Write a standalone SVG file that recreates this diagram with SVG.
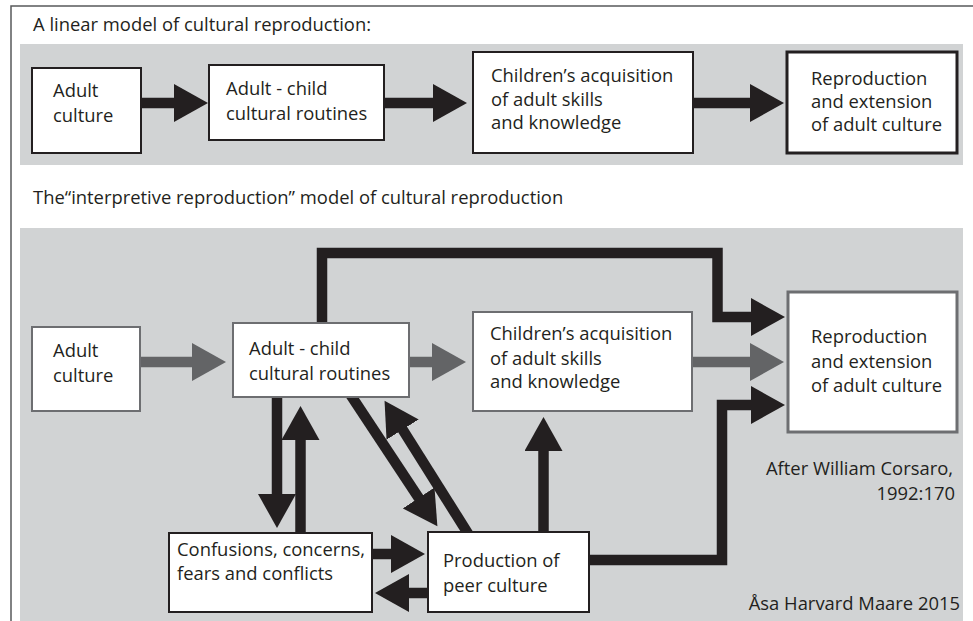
<svg xmlns="http://www.w3.org/2000/svg" width="973" height="621" viewBox="0 0 973 621">
  <style>
    text { font-family: "Open Sans", "Liberation Sans", sans-serif; font-size: 18.4px; fill: #231f20; }
    .panel { fill: #d1d3d4; }
    .bk { fill: #ffffff; stroke: #231f20; stroke-width: 2; }
    .gy { fill: #ffffff; stroke: #6d6e71; stroke-width: 2; }
    .shaft { fill: none; stroke: #231f20; stroke-width: 10.5; stroke-linejoin: miter; }
    .gshaft { fill: none; stroke: #636466; stroke-width: 10.5; }
    .end { text-anchor: end; }
  </style>
  <defs>
    <marker id="ah" markerUnits="userSpaceOnUse" viewBox="0 0 35 38" markerWidth="35" markerHeight="38" refX="1" refY="19" orient="auto">
      <path d="M0,0 L34,19 L0,38 Z" fill="#231f20"/>
    </marker>
    <marker id="gah" markerUnits="userSpaceOnUse" viewBox="0 0 35 38" markerWidth="35" markerHeight="38" refX="1" refY="19" orient="auto">
      <path d="M0,0 L34,19 L0,38 Z" fill="#636466"/>
    </marker>
  </defs>

  <rect width="973" height="621" fill="#ffffff"/>
  <path d="M11,621 V6 H973" fill="none" stroke="#58595b" stroke-width="1.5"/>

  <g id="title-linear"><text x="33" y="31">A linear model of cultural reproduction:</text></g>
  <rect class="panel" x="20" y="44" width="943" height="121"/>

  <g id="title-interpretive"><text x="33" y="204">The“interpretive reproduction” model of cultural reproduction</text></g>
  <rect class="panel" x="20" y="228" width="943" height="393"/>

  <g id="connectors">
    <!-- top linear model -->
    <path class="shaft" d="M140,103 H175" marker-end="url(#ah)"/>
    <path class="shaft" d="M383,103 H434" marker-end="url(#ah)"/>
    <path class="shaft" d="M692,103 H751" marker-end="url(#ah)"/>

    <!-- interpretive model: gray main chain -->
    <path class="gshaft" d="M139,362 H193" marker-end="url(#gah)"/>
    <path class="gshaft" d="M408,362 H433" marker-end="url(#gah)"/>
    <path class="gshaft" d="M691,362 H751" marker-end="url(#gah)"/>

    <!-- black routes -->
    <path class="shaft" d="M322,330 V253 H717.5 V317 H752" marker-end="url(#ah)"/>
    <path class="shaft" d="M580,560 H722 V405 H752" marker-end="url(#ah)"/>
    <path class="shaft" d="M277,390 V495" marker-end="url(#ah)"/>
    <path class="shaft" d="M300.5,540 V439" marker-end="url(#ah)"/>
    <path class="shaft" d="M543.5,540 V450" marker-end="url(#ah)"/>
    <path class="shaft" d="M365,554 H392" marker-end="url(#ah)"/>
    <path class="shaft" d="M435,593 H408" marker-end="url(#ah)"/>
    <path class="shaft" d="M347.6,390.3 L419.2,498.7" marker-end="url(#ah)"/>
    <path class="shaft" d="M471.3,538.8 L402.1,428.7" marker-end="url(#ah)"/>
  </g>

  <!-- linear model nodes -->
  <g id="lin-adult-culture">
    <rect class="bk" x="32" y="68" width="109" height="85"/>
    <text x="53" y="97">Adult</text>
    <text x="53" y="122">culture</text>
  </g>
  <g id="lin-routines">
    <rect class="bk" x="209" y="65" width="175" height="75"/>
    <text x="226" y="95">Adult - child</text>
    <text x="226" y="120">cultural routines</text>
  </g>
  <g id="lin-acquisition">
    <rect class="bk" x="473" y="52" width="220" height="101"/>
    <text x="491" y="82">Children’s acquisition</text>
    <text x="491" y="106">of adult skills</text>
    <text x="491" y="129">and knowledge</text>
  </g>
  <g id="lin-reproduction">
    <rect class="bk" x="787" y="52" width="170" height="101" style="stroke-width:3"/>
    <text x="811" y="85">Reproduction</text>
    <text x="811" y="108">and extension</text>
    <text x="811" y="131">of adult culture</text>
  </g>

  <!-- interpretive model nodes -->
  <g id="int-adult-culture">
    <rect class="gy" x="32" y="327" width="108" height="84"/>
    <text x="53" y="357">Adult</text>
    <text x="53" y="382">culture</text>
  </g>
  <g id="int-routines">
    <rect class="gy" x="233" y="323" width="176" height="74"/>
    <text x="249" y="355">Adult - child</text>
    <text x="249" y="380">cultural routines</text>
  </g>
  <g id="int-acquisition">
    <rect class="gy" x="473" y="312" width="219" height="99"/>
    <text x="490" y="340">Children’s acquisition</text>
    <text x="490" y="365">of adult skills</text>
    <text x="490" y="388">and knowledge</text>
  </g>
  <g id="int-reproduction">
    <rect class="gy" x="788" y="292" width="169" height="140" style="stroke-width:3"/>
    <text x="811" y="343">Reproduction</text>
    <text x="811" y="368">and extension</text>
    <text x="811" y="392">of adult culture</text>
  </g>
  <g id="int-confusions">
    <rect class="bk" x="169" y="533" width="203" height="79"/>
    <text x="177" y="556">Confusions, concerns,</text>
    <text x="177" y="580">fears and conflicts</text>
  </g>
  <g id="int-peer-culture">
    <rect class="bk" x="428" y="532" width="161" height="80"/>
    <text x="443" y="567">Production of</text>
    <text x="443" y="592">peer culture</text>
  </g>

  <g id="credits">
    <text class="end" x="953" y="475">After William Corsaro,</text>
    <text class="end" x="955" y="500">1992:170</text>
    <text class="end" x="960" y="610">Åsa Harvard Maare 2015</text>
  </g>
</svg>
